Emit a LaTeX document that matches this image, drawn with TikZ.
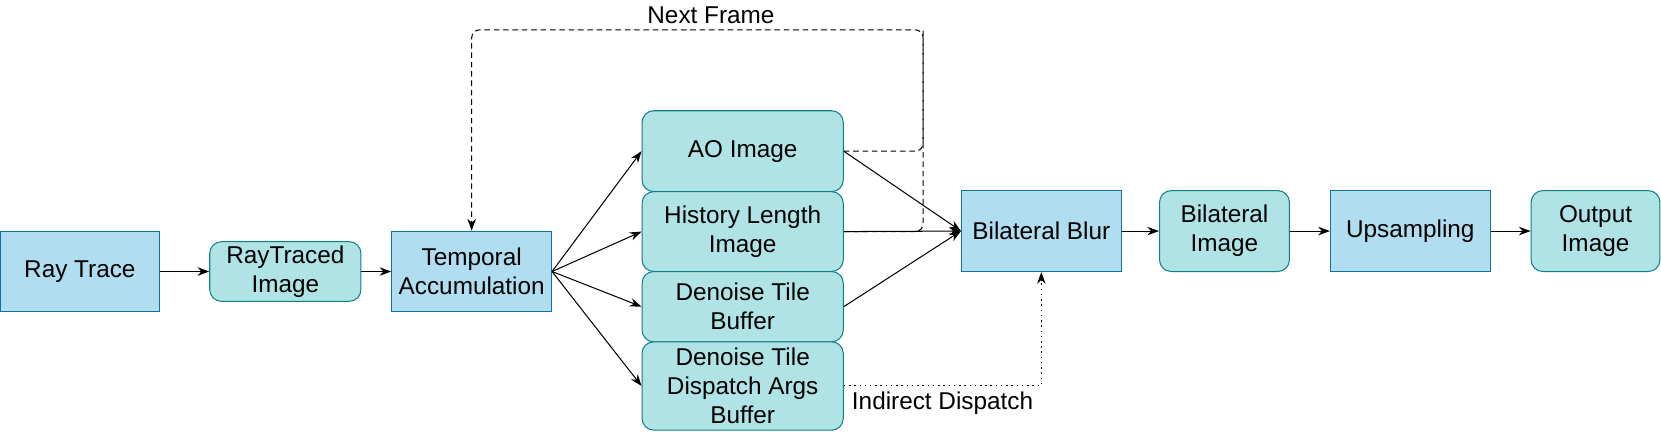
\documentclass[tikz,border=0pt]{standalone}
\usepackage{fontspec}
\setmainfont{Liberation Sans}
\usetikzlibrary{arrows.meta, positioning, calc}

\definecolor{passFill}{HTML}{B1DDF0}
\definecolor{passLine}{HTML}{10739E}
\definecolor{dataFill}{HTML}{B0E3E6}
\definecolor{dataLine}{HTML}{0E8088}

\begin{document}
\begin{tikzpicture}[
    font=\fontsize{13}{15.5}\selectfont,
    line width=0.55pt,
    pass/.style={draw=passLine, fill=passFill, minimum width=3cm, minimum height=1.52cm, align=center, inner sep=2pt},
    buffer/.style={draw=dataLine, fill=dataFill, rounded corners=0.22cm, minimum width=3.78cm, align=center, inner sep=2pt},
    arrow/.style={-{Stealth[length=2.2mm, width=1.6mm]}},
    feedback/.style={dash pattern=on 3pt off 2pt, rounded corners=0.15cm},
    indirect/.style={dash pattern=on 0.8pt off 2pt, -{Stealth[length=2.2mm, width=1.6mm]}},
    label_text/.style={font=\fontsize{13}{15.5}\selectfont, inner sep=3pt}
]
    \useasboundingbox (0,0) rectangle (31.2,-8.1);

    % Nodes
    \node[pass] (raytrace) at (1.50,-5.10) {Ray Trace};
    \node[buffer, minimum width=2.84cm, minimum height=1.12cm] (rtimage) at (5.36,-5.10) {RayTraced\\Image};
    \node[pass] (temporal) at (8.86,-5.10) {Temporal\\Accumulation};

    % Outputs of Temporal Accumulation
    \node[buffer, minimum height=1.52cm] (ao) at (13.95,-2.84) {AO Image};
    \node[buffer, minimum height=1.50cm] (history) at (13.95,-4.35) {History Length\\Image};
    \node[buffer, minimum height=1.32cm] (tilebuf) at (13.95,-5.76) {Denoise Tile\\Buffer};
    \node[buffer, minimum height=1.66cm] (tileargs) at (13.95,-7.25) {Denoise Tile\\Dispatch Args\\Buffer};

    \node[pass] (blur) at (19.56,-4.34) {Bilateral Blur};
    \node[buffer, minimum width=2.44cm, minimum height=1.52cm] (blurimage) at (23.0,-4.34) {Bilateral\\Image};
    \node[pass] (upsample) at (26.49,-4.34) {Upsampling};
    \node[buffer, minimum width=2.42cm, minimum height=1.52cm] (output) at (29.97,-4.34) {Output\\Image};

    \coordinate (loop) at (17.34,-0.56);

    % Next Frame feedback (drawn under the solid lines)
    \draw[feedback] (history.east) -| (loop);
    \draw[feedback, -{Stealth[length=2.2mm, width=1.6mm]}] (ao.east) -| (loop) -- node[label_text, above, pos=0.47] {Next Frame} (loop -| temporal.north) -- (temporal.north);

    % Main chain
    \draw[arrow] (raytrace) -- (rtimage);
    \draw[arrow] (rtimage) -- (temporal);
    \foreach \target in {ao, history, tilebuf, tileargs}
        \draw[arrow] (temporal.east) -- (\target.west);
    \foreach \source in {ao, history, tilebuf}
        \draw[arrow] (\source.east) -- (blur.west);
    \draw[arrow] (blur) -- (blurimage);
    \draw[arrow] (blurimage) -- (upsample);
    \draw[arrow] (upsample) -- (output);

    % Indirect Dispatch
    \draw[indirect] (tileargs.east) -| node[label_text, below, pos=0.25] {Indirect Dispatch} (blur.south);

\end{tikzpicture}
\end{document}
